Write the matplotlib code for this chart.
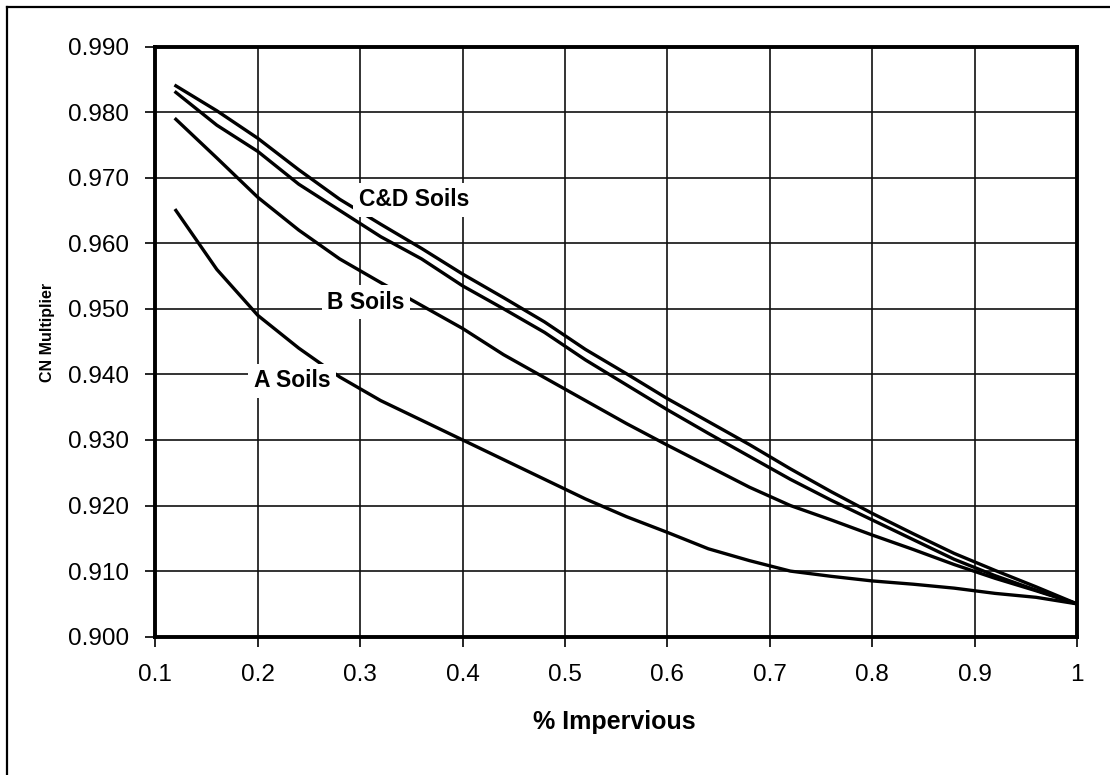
import matplotlib
matplotlib.use("Agg")
import matplotlib.pyplot as plt
from matplotlib.lines import Line2D

plt.rcParams['font.family'] = ['Liberation Sans', 'DejaVu Sans']

# % impervious (x) and CN multiplier per soil group
impervious = [0.12, 0.16, 0.20, 0.24, 0.28, 0.32, 0.36, 0.40, 0.44, 0.48, 0.52, 0.56,
              0.60, 0.64, 0.68, 0.72, 0.76, 0.80, 0.84, 0.88, 0.92, 0.96, 1.00]
cd_upper = [0.984, 0.9802, 0.976, 0.9712, 0.9667, 0.9629, 0.9592, 0.9553, 0.9517, 0.948, 0.9438, 0.9401,
            0.9363, 0.9328, 0.9293, 0.9256, 0.9221, 0.9188, 0.9157, 0.9127, 0.9101, 0.9076, 0.905]
cd_lower = [0.983, 0.978, 0.974, 0.969, 0.965, 0.961, 0.9576, 0.9535, 0.950, 0.9464, 0.9422, 0.9384,
            0.9346, 0.931, 0.9275, 0.924, 0.9208, 0.9178, 0.9148, 0.9118, 0.9093, 0.9071, 0.905]
b_soils = [0.9789, 0.973, 0.967, 0.962, 0.9576, 0.954, 0.9505, 0.947, 0.943, 0.9395, 0.936, 0.9325,
           0.9292, 0.926, 0.9228, 0.920, 0.9178, 0.9155, 0.9133, 0.911, 0.9089, 0.907, 0.905]
a_soils = [0.965, 0.956, 0.949, 0.944, 0.9396, 0.936, 0.933, 0.930, 0.927, 0.924, 0.921, 0.9183,
           0.9159, 0.9134, 0.9116, 0.910, 0.9092, 0.9085, 0.908, 0.9074, 0.9066, 0.906, 0.905]

x_ticks = [0.1, 0.2, 0.3, 0.4, 0.5, 0.6, 0.7, 0.8, 0.9, 1.0]
x_labels = ['0.1', '0.2', '0.3', '0.4', '0.5', '0.6', '0.7', '0.8', '0.9', '1']
y_ticks = [0.900, 0.910, 0.920, 0.930, 0.940, 0.950, 0.960, 0.970, 0.980, 0.990]

curve_labels = ['C&D Soils', 'B Soils', 'A Soils']
label_x = [0.3525, 0.3057, 0.2334]
label_y = [0.9666, 0.9510, 0.9390]

fig = plt.figure(figsize=(11.1, 7.75), dpi=100)
ax = fig.add_axes([0.140, 0.1785, 0.8303, 0.7615])

for series in [cd_upper, cd_lower, b_soils, a_soils]:
    ax.plot(impervious, series, color='black', lw=2.4, zorder=3)

for txt, lx, ly in zip(curve_labels, label_x, label_y):
    ax.text(lx, ly, txt, ha='center', va='center', fontsize=16.5, fontweight='bold',
            bbox=dict(facecolor='white', edgecolor='none', pad=4), zorder=4)

ax.set_xlim(0.1, 1.0)
ax.set_ylim(0.900, 0.990)
ax.set_xticks(x_ticks)
ax.set_xticklabels(x_labels)
ax.set_yticks(y_ticks)
ax.set_yticklabels(['%.3f' % v for v in y_ticks])
ax.grid(True, color='#111111', lw=1.2)
ax.set_axisbelow(True)
ax.tick_params(axis='both', direction='out', length=7, width=1.2, labelsize=17.5, color='black')
ax.tick_params(axis='y', pad=12)
ax.tick_params(axis='x', pad=13)
for sp in ax.spines.values():
    sp.set_linewidth(2.8)
    sp.set_color('black')

ax.text(-0.1176, 0.516, 'CN Multiplier', transform=ax.transAxes, rotation=90,
        ha='center', va='center', fontsize=11.5, fontweight='bold')
ax.text(0.498, -0.144, '% Impervious', transform=ax.transAxes,
        ha='center', va='center', fontsize=18, fontweight='bold')

# frame lines along top and left of the picture
fig.add_artist(Line2D([0.006, 1.0], [0.9914, 0.9914], color='black', lw=1.6, transform=fig.transFigure))
fig.add_artist(Line2D([0.006, 0.006], [0.0, 0.9914], color='black', lw=1.6, transform=fig.transFigure))

fig.savefig('out.png', dpi=100)
